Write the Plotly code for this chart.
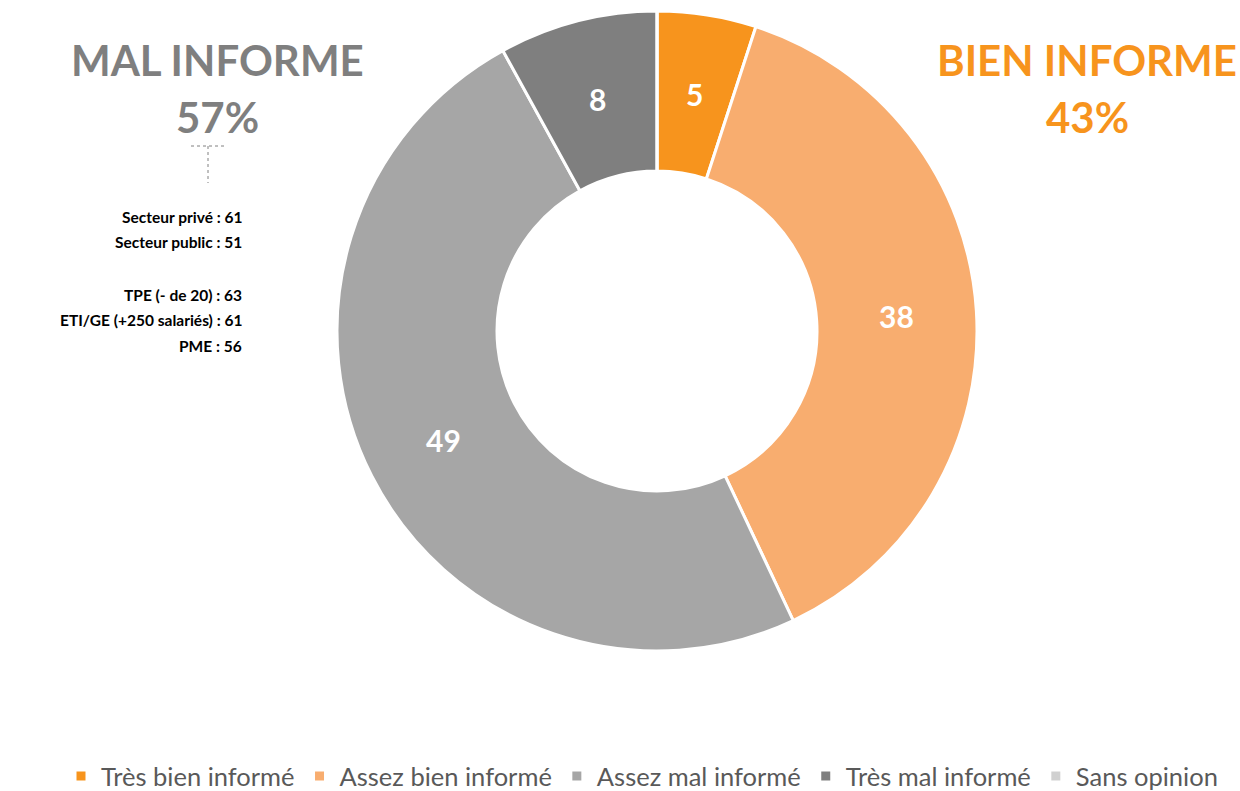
import math
import plotly.graph_objects as go

categories = ["Très bien informé", "Assez bien informé", "Assez mal informé", "Très mal informé", "Sans opinion"]
values = [5, 38, 49, 8, 0]
colors = ["#F7941D", "#F8AD6F", "#A6A6A6", "#7F7F7F", "#D0D0D0"]
left_title = ["MAL INFORME", "57%"]
right_title = ["BIEN INFORME", "43%"]
detail_lines = ["Secteur privé : 61", "Secteur public : 51", "", "TPE (- de 20) : 63", "ETI/GE (+250 salariés) : 61", "PME : 56"]

W, H = 1240, 800
FONT = "Lato, Calibri, 'Open Sans', sans-serif"

# pie geometry (pixels)
CX, CY, R, HOLE = 657, 331, 320, 0.5

fig = go.Figure()
fig.add_trace(go.Pie(
    labels=categories,
    values=values,
    hole=HOLE,
    sort=False,
    direction="clockwise",
    rotation=0,
    marker=dict(colors=colors, line=dict(color="white", width=3)),
    textinfo="none",
    domain=dict(x=[(CX - R) / W, (CX + R) / W], y=[(H - (CY + R)) / H, (H - (CY - R)) / H]),
    showlegend=True,
    hoverinfo="label+value",
))

def yp(px):
    return 1 - px / H

ann = []
# slice value labels at mid-ring, derived from cumulative values
total = sum(values)
cum = 0
r_lab = R * (1 + HOLE) / 2
for v in values:
    if v > 0:
        mid = (cum + v / 2) / total * 2 * math.pi
        px = CX + r_lab * math.sin(mid)
        py = CY - r_lab * math.cos(mid)
        ann.append(dict(x=px / W, y=yp(py), text=f"<b>{v}</b>", showarrow=False,
                        xref="paper", yref="paper", xanchor="center", yanchor="middle",
                        font=dict(family=FONT, size=30, color="white")))
    cum += v

ann.append(dict(x=217 / W, y=yp(60), text=f"<b>{left_title[0]}</b>", showarrow=False,
                xref="paper", yref="paper", xanchor="center", yanchor="middle",
                font=dict(family=FONT, size=42, color="#7F7F7F")))
ann.append(dict(x=217 / W, y=yp(117), text=f"<b>{left_title[1]}</b>", showarrow=False,
                xref="paper", yref="paper", xanchor="center", yanchor="middle",
                font=dict(family=FONT, size=42, color="#7F7F7F")))
ann.append(dict(x=1087 / W, y=yp(60), text=f"<b>{right_title[0]}</b>", showarrow=False,
                xref="paper", yref="paper", xanchor="center", yanchor="middle",
                font=dict(family=FONT, size=42, color="#F7941D")))
ann.append(dict(x=1087 / W, y=yp(117), text=f"<b>{right_title[1]}</b>", showarrow=False,
                xref="paper", yref="paper", xanchor="center", yanchor="middle",
                font=dict(family=FONT, size=42, color="#F7941D")))

line_y = [217, 242, 268, 295, 320, 346]
for t, y in zip(detail_lines, line_y):
    if t:
        ann.append(dict(x=244 / W, y=yp(y), text=f"<b>{t}</b>", showarrow=False,
                        xref="paper", yref="paper", xanchor="right", yanchor="middle",
                        font=dict(family=FONT, size=15.5, color="#000000")))

shapes = [
    dict(type="line", xref="paper", yref="paper", x0=191 / W, x1=224 / W, y0=yp(146), y1=yp(146),
         line=dict(color="#808080", width=1, dash="dot")),
    dict(type="line", xref="paper", yref="paper", x0=208 / W, x1=208 / W, y0=yp(146), y1=yp(183),
         line=dict(color="#808080", width=1, dash="dot")),
]

fig.update_layout(
    width=W, height=H,
    margin=dict(l=0, r=0, t=0, b=0),
    paper_bgcolor="white",
    plot_bgcolor="white",
    annotations=ann,
    shapes=shapes,
    legend=dict(orientation="h", x=642 / W, xanchor="center", y=0, yanchor="bottom",
                font=dict(family=FONT, size=25.5, color="#595959"),
                itemwidth=30, traceorder="normal"),
    font=dict(family=FONT),
)

fig.write_html("out.html", config={"displayModeBar": False},
               post_script="document.body.style.margin='0';document.body.style.overflow='hidden';")
